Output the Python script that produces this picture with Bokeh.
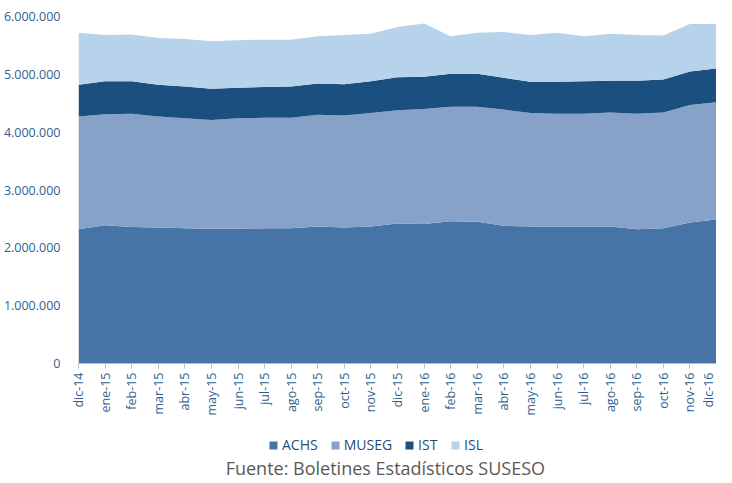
import numpy as np
from bokeh.plotting import figure
from bokeh.layouts import column
from bokeh.models import (Range1d, FixedTicker, CustomJSTickFormatter, Legend,
                          LegendItem, Label)
from bokeh.embed import file_html
from bokeh.resources import INLINE

months = ["dic-14", "ene-15", "feb-15", "mar-15", "abr-15", "may-15", "jun-15",
          "jul-15", "ago-15", "sep-15", "oct-15", "nov-15", "dic-15", "ene-16",
          "feb-16", "mar-16", "abr-16", "may-16", "jun-16", "jul-16", "ago-16",
          "sep-16", "oct-16", "nov-16", "dic-16"]

achs = [2320000, 2390000, 2360000, 2350000, 2340000, 2330000, 2330000, 2340000,
        2340000, 2370000, 2350000, 2370000, 2420000, 2410000, 2460000, 2450000,
        2380000, 2370000, 2370000, 2370000, 2370000, 2320000, 2340000, 2440000,
        2490000]
museg = [1950000, 1920000, 1960000, 1920000, 1900000, 1880000, 1910000, 1910000,
         1910000, 1930000, 1940000, 1960000, 1960000, 1990000, 1980000, 1990000,
         2010000, 1960000, 1950000, 1950000, 1970000, 2000000, 2000000, 2030000,
         2030000]
ist = [550000, 570000, 560000, 550000, 550000, 540000, 530000, 530000,
       540000, 540000, 540000, 550000, 570000, 560000, 570000, 570000,
       550000, 540000, 550000, 560000, 550000, 570000, 570000, 580000,
       580000]
isl = [900000, 800000, 810000, 810000, 820000, 820000, 820000, 820000,
       810000, 820000, 850000, 820000, 870000, 920000, 650000, 710000,
       790000, 810000, 850000, 780000, 810000, 790000, 760000, 820000,
       770000]

series = ["ACHS", "MUSEG", "IST", "ISL"]
colors = ["#4674A7", "#86A2C8", "#1B4F7F", "#B7D2EB"]
y_ticks = [0, 1000000, 2000000, 3000000, 4000000, 5000000, 6000000]
caption_text = "Fuente: Boletines Estadísticos SUSESO"

x = list(range(len(months)))
data = dict(x=x, ACHS=achs, MUSEG=museg, IST=ist, ISL=isl)

# ---------------- main chart ----------------
p = figure(width=716, height=418, output_backend="svg", toolbar_location=None,
           x_range=Range1d(0, len(months) - 1), y_range=Range1d(0, 6000000),
           min_border_left=70, min_border_right=0, min_border_top=16,
           min_border_bottom=55)

p.varea_stack(stackers=series, x="x", color=colors, source=data)

p.xgrid.visible = False
p.ygrid.visible = False
p.outline_line_color = None
p.background_fill_color = "white"
p.border_fill_color = "white"

axis_color = "#2F5F8F"
p.yaxis.ticker = FixedTicker(ticks=y_ticks)
p.yaxis.formatter = CustomJSTickFormatter(code="""
    return Math.round(tick).toString().replace(/\\B(?=(\\d{3})+(?!\\d))/g, '.');
""")
p.yaxis.axis_line_color = None
p.yaxis.major_tick_line_color = None
p.yaxis.minor_tick_line_color = None
p.yaxis.major_label_text_font = "Open Sans"
p.yaxis.major_label_text_font_size = "12.5px"
p.yaxis.major_label_text_color = axis_color
p.yaxis.major_label_standoff = 12

p.xaxis.ticker = FixedTicker(ticks=x)
p.xaxis.major_label_overrides = {i: m for i, m in enumerate(months)}
p.xaxis.major_label_orientation = np.pi / 2
p.xaxis.axis_line_color = "#BFBFBF"
p.xaxis.major_tick_line_color = "#BFBFBF"
p.xaxis.major_tick_in = 0
p.xaxis.major_tick_out = 5
p.xaxis.minor_tick_line_color = None
p.xaxis.major_label_text_font = "Open Sans"
p.xaxis.major_label_text_font_size = "12.5px"
p.xaxis.major_label_text_color = axis_color
p.xaxis.major_label_standoff = 4

# ---------------- legend + caption ----------------
# The same stacked series are drawn here outside the visible x range, so that
# only their legend swatches show.
p2 = figure(width=716, height=64, output_backend="svg", toolbar_location=None,
            x_range=Range1d(100, 101), y_range=Range1d(0, 1),
            min_border=0, x_axis_location=None, y_axis_location=None)
p2.xgrid.visible = False
p2.ygrid.visible = False
p2.outline_line_color = None

legend_renderers = p2.varea_stack(stackers=series, x="x", color=colors, source=data)

legend = Legend(items=[LegendItem(label=s, renderers=[r])
                       for s, r in zip(series, legend_renderers)],
                orientation="horizontal", location=(190, 28),
                label_text_font="Open Sans", label_text_font_size="14px",
                label_text_color="#1F4E79", glyph_width=10, glyph_height=10,
                label_standoff=4, spacing=12, padding=2, margin=0,
                border_line_color=None, background_fill_alpha=0)
p2.add_layout(legend, "center")

caption = Label(x=100.481, y=0.219, text=caption_text, text_align="center",
                text_baseline="middle", text_font="Open Sans",
                text_font_size="18px", text_color="#595959")
p2.add_layout(caption)

layout = column(p, p2, spacing=0)
open("out.html", "w").write(file_html(layout, INLINE))
